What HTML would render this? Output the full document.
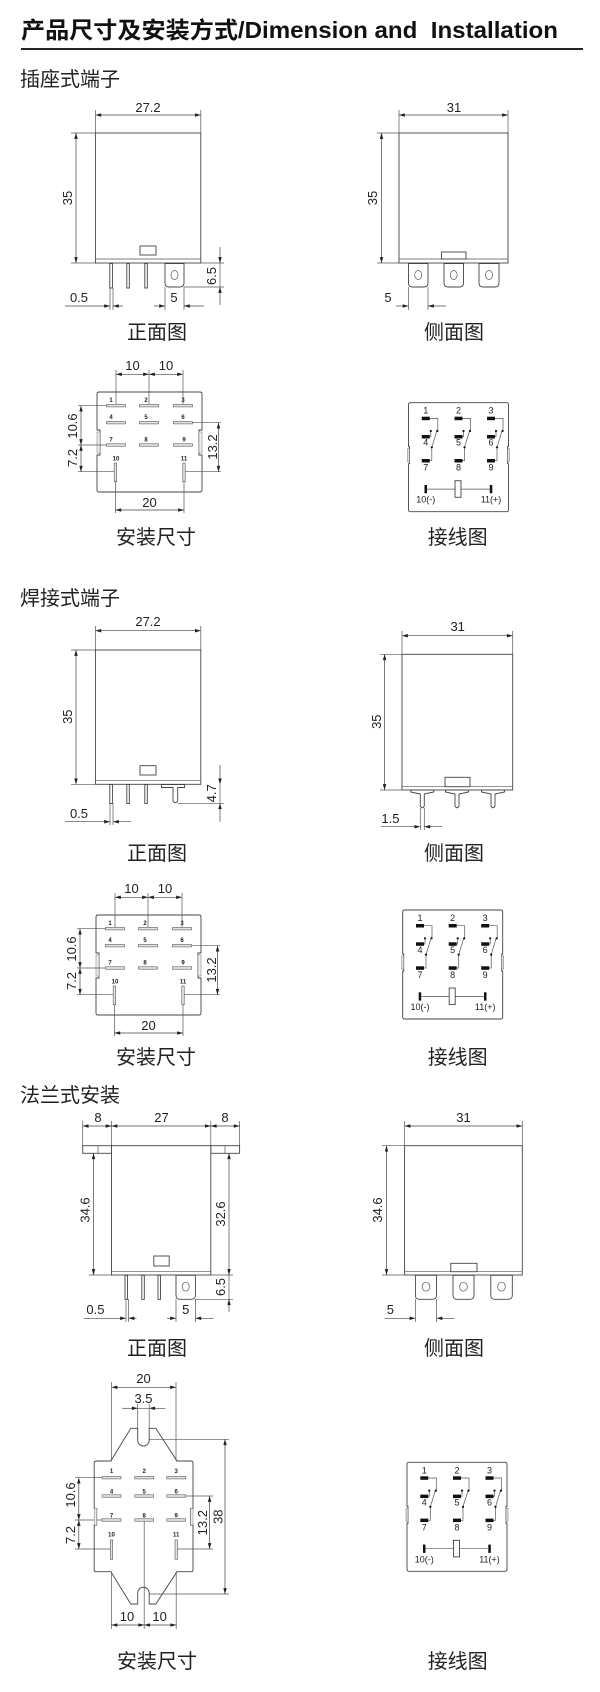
<!DOCTYPE html>
<html><head><meta charset="utf-8"><style>
html,body{margin:0;padding:0;background:#fff;}
svg{display:block}
.l{stroke:#555;stroke-width:.7;fill:none}
.b{stroke:#444;stroke-width:.9;fill:#fff}
.d{stroke:#444;stroke-width:.7;fill:none;marker-start:url(#a);marker-end:url(#a)}
.e{stroke:#444;stroke-width:.7;fill:none;marker-end:url(#a)}
.n{font-family:"Liberation Sans",sans-serif;font-size:13px;fill:#222;text-anchor:middle}
.s{font-family:"Liberation Sans",sans-serif;font-size:6px;fill:#222;text-anchor:middle;font-weight:bold}
.w{font-family:"Liberation Sans",sans-serif;font-size:9px;fill:#222;text-anchor:middle}
.c{font-family:"Liberation Sans","Noto Sans CJK SC",sans-serif;font-size:20px;fill:#222;text-anchor:middle}
.h{font-family:"Liberation Sans","Noto Sans CJK SC",sans-serif;font-size:20px;fill:#222}
.sl{fill:#e4e4e4;stroke:#555;stroke-width:.6}
.k{fill:#111}
</style></head><body>
<svg width="600" height="1692" viewBox="0 0 600 1692" xmlns="http://www.w3.org/2000/svg">
<defs>
<marker id="a" viewBox="0 0 10 6" refX="10" refY="3" markerWidth="7" markerHeight="3.5" markerUnits="userSpaceOnUse" orient="auto-start-reverse"><path d="M0,0L10,3L0,6z" fill="#222"/></marker>
<g id="wir">
<path class="b" d="M0,2Q0,0 2,0H98Q100,0 100,2V44H99V61H100V107Q100,109 98,109H2Q0,109 0,107V61H1V44H0Z"/>
<rect x="-1" y="46" width="2" height="13" fill="#ddd" stroke="#777" stroke-width=".5"/>
<rect x="99" y="46" width="2" height="13" fill="#ddd" stroke="#777" stroke-width=".5"/>
</g>
<g id="col">
<rect class="k" x="-4" y="14" width="8" height="3.5"/>
<rect class="k" x="-4" y="32.3" width="8" height="3.5"/>
<rect class="k" x="-4" y="56.3" width="8" height="3.5"/>
<path class="l" d="M4,15.7H12V28.3 M4,34H5V28.3 M4,58H6V44.6 M6,44.6L11,28.3"/>
<circle cx="5" cy="28.3" r="1.1" class="k"/><circle cx="11.5" cy="28.3" r="1.1" class="k"/><circle cx="6" cy="44.6" r="1.1" class="k"/>
</g>
<g id="plate">
<path class="b" d="M0,2Q0,0 2,0H103Q105,0 105,2V38H102V63H105V98Q105,100 103,100H2Q0,100 0,98V63H3V38H0Z"/>
<rect x="0" y="40" width="3" height="21" fill="#eee" stroke="#777" stroke-width=".5"/>
<rect x="102" y="40" width="3" height="21" fill="#eee" stroke="#777" stroke-width=".5"/>
<rect class="sl" x="9.5" y="12.5" width="19" height="2.4"/><rect class="sl" x="42.5" y="12.5" width="19" height="2.4"/><rect class="sl" x="76.5" y="12.5" width="19" height="2.4"/>
<rect class="sl" x="9.5" y="29.5" width="19" height="2.4"/><rect class="sl" x="42.5" y="29.5" width="19" height="2.4"/><rect class="sl" x="76.5" y="29.5" width="19" height="2.4"/>
<rect class="sl" x="9.5" y="51.8" width="19" height="2.4"/><rect class="sl" x="42.5" y="51.8" width="19" height="2.4"/><rect class="sl" x="76.5" y="51.8" width="19" height="2.4"/>
<rect class="sl" x="17.2" y="71" width="2.4" height="18.7"/><rect class="sl" x="85.8" y="71" width="2.4" height="18.7"/>
<text class="s" x="14" y="10">1</text><text class="s" x="49" y="10">2</text><text class="s" x="86" y="10">3</text>
<text class="s" x="14" y="27">4</text><text class="s" x="49" y="27">5</text><text class="s" x="86" y="27">6</text>
<text class="s" x="14" y="49.5">7</text><text class="s" x="49" y="49.5">8</text><text class="s" x="87" y="49.5">9</text>
<text class="s" x="19" y="68.5">10</text><text class="s" x="87" y="68.5">11</text>
<path class="l" d="M19,-22V12 M52,-22V12 M86,-22V12 M-19,13.7H9.5 M-19,53H9.5 M-19,79.7H17 M95.5,30.7H124 M88.5,79.7H124 M18.4,89.7V121 M87,89.7V121"/>
<line class="d" x1="19" y1="-17.7" x2="52" y2="-17.7"/><line class="d" x1="52" y1="-17.7" x2="86" y2="-17.7"/>
<text class="n" x="35.5" y="-22">10</text><text class="n" x="69" y="-22">10</text>
<line class="d" x1="-16" y1="13.7" x2="-16" y2="53"/><line class="d" x1="-16" y1="53" x2="-16" y2="79.7"/>
<text class="n" transform="translate(-20,34) rotate(-90)">10.6</text>
<text class="n" transform="translate(-20,66) rotate(-90)">7.2</text>
<line class="d" x1="121.5" y1="30.7" x2="121.5" y2="79.7"/>
<text class="n" transform="translate(120,55) rotate(-90)">13.2</text>
<line class="d" x1="18.4" y1="118" x2="87" y2="118"/>
<text class="n" x="52.5" y="115">20</text>
</g>
</defs>

<text x="21" y="38" font-family="'Liberation Sans','Noto Sans CJK SC',sans-serif" font-size="23" font-weight="bold" fill="#111" textLength="537" lengthAdjust="spacingAndGlyphs" xml:space="preserve">产品尺寸及安装方式/Dimension and  Installation</text>
<rect x="21" y="48" width="562" height="2" fill="#222"/>

<!-- Section 1 -->
<text class="h" x="20" y="86">插座式端子</text>
<text class="n" x="148" y="112">27.2</text>
<line class="d" x1="95.4" y1="115" x2="200.8" y2="115"/>
<path class="l" d="M95.4,110V133 M200.8,110V133 M71,133H95 M71,263H95 M184,287H224 M200.8,263H224 M110,288V310 M113,288V310 M165,287V310 M184,287V310"/>
<rect class="b" x="95.4" y="133" width="105.4" height="130"/>
<line class="l" x1="95.4" y1="259" x2="200.8" y2="259"/>
<line class="d" x1="76" y1="133" x2="76" y2="263"/>
<text class="n" transform="translate(72,198) rotate(-90)">35</text>
<rect class="b" x="140" y="246" width="16" height="9"/>
<rect class="b" x="109.8" y="263.5" width="2.8" height="24.5"/><rect class="b" x="126.8" y="263.5" width="2.5" height="24.5"/><rect class="b" x="144.8" y="263.5" width="2.5" height="24.5"/>
<path class="b" d="M165,263.5V283Q165,287 169,287H180Q184,287 184,283V263.5Z"/><ellipse class="l" cx="174.5" cy="275" rx="3.5" ry="4.5"/>
<line class="l" x1="220" y1="263" x2="220" y2="287"/>
<line class="e" x1="220" y1="247" x2="220" y2="263"/><line class="e" x1="220" y1="305" x2="220" y2="287"/>
<text class="n" transform="translate(216,276) rotate(-90)">6.5</text>
<line class="e" x1="65" y1="306" x2="110" y2="306"/><line class="e" x1="123" y1="306" x2="113" y2="306"/>
<text class="n" x="79" y="302">0.5</text>
<line class="e" x1="154" y1="306" x2="165" y2="306"/><line class="e" x1="204" y1="306" x2="184" y2="306"/>
<text class="n" x="174" y="302">5</text>
<text class="c" x="157" y="339">正面图</text>

<text class="n" x="454" y="112">31</text>
<line class="d" x1="399" y1="115" x2="508" y2="115"/>
<path class="l" d="M399,110V133 M508,110V133 M377,133H399 M377,263H399 M408.5,287V310 M428,287V310"/>
<rect class="b" x="399" y="133" width="109" height="130"/>
<line class="l" x1="399" y1="259" x2="508" y2="259"/>
<rect class="b" x="441.5" y="252" width="24.5" height="7"/>
<line class="d" x1="381.5" y1="133" x2="381.5" y2="263"/>
<text class="n" transform="translate(377,198) rotate(-90)">35</text>
<path class="b" d="M408.5,263.5V283Q408.5,287 412.5,287H424Q428,287 428,283V263.5Z M444,263.5V283Q444,287 448,287H459.5Q463.5,287 463.5,283V263.5Z M479,263.5V283Q479,287 483,287H495Q499,287 499,283V263.5Z"/>
<ellipse class="l" cx="418.2" cy="275" rx="3.5" ry="4.5"/><ellipse class="l" cx="453.7" cy="275" rx="3.5" ry="4.5"/><ellipse class="l" cx="489" cy="275" rx="3.5" ry="4.5"/>
<line class="e" x1="396" y1="306" x2="408.5" y2="306"/><line class="e" x1="446" y1="306" x2="428" y2="306"/>
<text class="n" x="388" y="302">5</text>
<text class="c" x="454" y="339">侧面图</text>

<use href="#plate" transform="translate(97,392)"/>
<text class="c" x="156" y="544">安装尺寸</text>
<g transform="translate(408.5,402.7)">
<use href="#wir"/>
<use href="#col" transform="translate(17.3,0)"/><use href="#col" transform="translate(50,0)"/><use href="#col" transform="translate(82.5,0)"/>
<text class="w" x="17.3" y="11">1</text><text class="w" x="50" y="11">2</text><text class="w" x="82.5" y="11">3</text>
<text class="w" x="17.3" y="43">4</text><text class="w" x="50" y="43">5</text><text class="w" x="82.5" y="43">6</text>
<text class="w" x="17.3" y="68">7</text><text class="w" x="50" y="68">8</text><text class="w" x="82.5" y="68">9</text>
<rect class="k" x="16" y="82.3" width="2.5" height="8.3"/><rect class="k" x="81.3" y="82.3" width="2.5" height="8.3"/>
<line class="l" x1="18" y1="86.4" x2="82" y2="86.4"/>
<rect class="b" x="46.5" y="78" width="6" height="16.6"/>
<text class="w" x="17.3" y="100" font-size="8">10(-)</text><text class="w" x="82.5" y="100" font-size="8">11(+)</text>
</g>
<text class="c" x="457.7" y="544">接线图</text>

<!-- Section 2 -->
<text class="h" x="20" y="605">焊接式端子</text>
<text class="n" x="148" y="626">27.2</text>
<line class="d" x1="95.4" y1="630.7" x2="200.8" y2="630.7"/>
<path class="l" d="M95.4,626V650 M200.8,626V650 M71,650H95 M71,784.3H95 M177.7,803.3H224 M110,803V825 M113,803V825"/>
<rect class="b" x="95.4" y="650" width="105.4" height="134.3"/>
<line class="l" x1="95.4" y1="780.7" x2="200.8" y2="780.7"/>
<line class="d" x1="76" y1="650" x2="76" y2="784.3"/>
<text class="n" transform="translate(72,716.7) rotate(-90)">35</text>
<rect class="b" x="140" y="765.7" width="16" height="9.3"/>
<rect class="b" x="109.8" y="784.5" width="2.8" height="19"/><rect class="b" x="126.8" y="784.5" width="2.5" height="19"/><rect class="b" x="144.8" y="784.5" width="2.5" height="19"/>
<path class="b" d="M161.5,784.5V787.5H173V801Q175.3,804.5 177.7,801V787.5H184.6V784.5Z"/>
<line class="l" x1="220" y1="784.3" x2="220" y2="803.3"/>
<line class="e" x1="220" y1="765" x2="220" y2="784.3"/><line class="e" x1="220" y1="821.7" x2="220" y2="803.3"/>
<text class="n" transform="translate(216,793.3) rotate(-90)">4.7</text>
<line class="e" x1="65" y1="821.7" x2="110" y2="821.7"/><line class="e" x1="131" y1="821.7" x2="113" y2="821.7"/>
<text class="n" x="79" y="818">0.5</text>
<text class="c" x="157" y="860">正面图</text>

<text class="n" x="457.7" y="631">31</text>
<line class="d" x1="402" y1="635.7" x2="512.7" y2="635.7"/>
<path class="l" d="M402,631V654.3 M512.7,631V654.3 M380,654.3H402 M380,790H402 M420.3,808V830 M424.3,808V830"/>
<rect class="b" x="402" y="654.3" width="110.7" height="135.7"/>
<line class="l" x1="402" y1="786.7" x2="512.7" y2="786.7"/>
<rect class="b" x="445" y="777.3" width="25" height="9.4"/>
<line class="d" x1="384.6" y1="654.3" x2="384.6" y2="790"/>
<text class="n" transform="translate(381,721.7) rotate(-90)">35</text>
<path class="b" d="M410.8,790V792L420.3,794V806Q422.3,809.5 424.3,806V794L433.8,792V790Z M445.5,790V792L455,794V806Q457,809.5 459,806V794L468.5,792V790Z M481.5,790V792L491,794V806Q493,809.5 495,806V794L504.5,792V790Z"/>
<line class="e" x1="381" y1="826.7" x2="420.3" y2="826.7"/><line class="e" x1="442" y1="826.7" x2="424.3" y2="826.7"/>
<text class="n" x="390.4" y="823">1.5</text>
<text class="c" x="454" y="860">侧面图</text>

<use href="#plate" transform="translate(96,915)"/>
<text class="c" x="156" y="1064">安装尺寸</text>
<g transform="translate(402.7,910)">
<use href="#wir"/>
<use href="#col" transform="translate(17.3,0)"/><use href="#col" transform="translate(50,0)"/><use href="#col" transform="translate(82.5,0)"/>
<text class="w" x="17.3" y="11">1</text><text class="w" x="50" y="11">2</text><text class="w" x="82.5" y="11">3</text>
<text class="w" x="17.3" y="43">4</text><text class="w" x="50" y="43">5</text><text class="w" x="82.5" y="43">6</text>
<text class="w" x="17.3" y="68">7</text><text class="w" x="50" y="68">8</text><text class="w" x="82.5" y="68">9</text>
<rect class="k" x="16" y="82.3" width="2.5" height="8.3"/><rect class="k" x="81.3" y="82.3" width="2.5" height="8.3"/>
<line class="l" x1="18" y1="86.4" x2="82" y2="86.4"/>
<rect class="b" x="46.5" y="78" width="6" height="16.6"/>
<text class="w" x="17.3" y="100" font-size="8">10(-)</text><text class="w" x="82.5" y="100" font-size="8">11(+)</text>
</g>
<text class="c" x="457.7" y="1064">接线图</text>

<!-- Section 3 -->
<text class="h" x="20" y="1102">法兰式安装</text>
<path class="l" d="M82.7,1121V1145.7 M111.5,1121V1145.7 M210.8,1121V1145.7 M239.6,1121V1145.7 M89,1275H111.5 M210.8,1275H233 M195.4,1299.3H233 M126,1299V1322 M128.5,1299V1322 M176,1299V1322 M195.4,1299V1322"/>
<line class="d" x1="82.7" y1="1126" x2="111.5" y2="1126"/><line class="d" x1="111.5" y1="1126" x2="210.8" y2="1126"/><line class="d" x1="210.8" y1="1126" x2="239.6" y2="1126"/>
<text class="n" x="98" y="1122">8</text><text class="n" x="161.5" y="1122">27</text><text class="n" x="225" y="1122">8</text>
<rect class="b" x="82.7" y="1145.7" width="28.8" height="7.6"/><rect class="b" x="210.8" y="1145.7" width="28.8" height="7.6"/>
<line class="l" x1="98" y1="1145.7" x2="98" y2="1153.3"/><line class="l" x1="225" y1="1145.7" x2="225" y2="1153.3"/>
<rect class="b" x="111.5" y="1145.7" width="99.3" height="129.3"/>
<line class="l" x1="111.5" y1="1271.7" x2="210.8" y2="1271.7"/>
<line class="d" x1="93.5" y1="1153.3" x2="93.5" y2="1275"/>
<text class="n" transform="translate(89.5,1210) rotate(-90)">34.6</text>
<line class="d" x1="229" y1="1153.3" x2="229" y2="1275"/>
<text class="n" transform="translate(225,1214) rotate(-90)">32.6</text>
<rect class="b" x="153.8" y="1256" width="15.4" height="10"/>
<rect class="b" x="125" y="1275.3" width="2.5" height="24"/><rect class="b" x="141.8" y="1275.3" width="2.5" height="24"/><rect class="b" x="158" y="1275.3" width="2.5" height="24"/>
<path class="b" d="M176,1275.3V1295.3Q176,1299.3 180,1299.3H191.4Q195.4,1299.3 195.4,1295.3V1275.3Z"/><ellipse class="l" cx="185.7" cy="1286.7" rx="3.5" ry="4.5"/>
<line class="l" x1="229" y1="1275" x2="229" y2="1299.3"/><line class="e" x1="229" y1="1312" x2="229" y2="1299.3"/>
<text class="n" transform="translate(225,1287) rotate(-90)">6.5</text>
<line class="e" x1="83.8" y1="1318.3" x2="126" y2="1318.3"/><line class="e" x1="136.5" y1="1318.3" x2="128.5" y2="1318.3"/>
<text class="n" x="95.4" y="1314">0.5</text>
<line class="e" x1="167" y1="1318.3" x2="176" y2="1318.3"/><line class="e" x1="213.5" y1="1318.3" x2="195.4" y2="1318.3"/>
<text class="n" x="185.8" y="1314">5</text>
<text class="c" x="157" y="1355">正面图</text>

<text class="n" x="463.5" y="1122">31</text>
<line class="d" x1="404.6" y1="1126" x2="522.3" y2="1126"/>
<path class="l" d="M404.6,1121V1145.7 M522.3,1121V1145.7 M382,1145.7H404.6 M382,1275H404.6 M415.4,1299V1322 M436.5,1299V1322"/>
<rect class="b" x="404.6" y="1145.7" width="117.7" height="129.3"/>
<line class="l" x1="404.6" y1="1271.7" x2="522.3" y2="1271.7"/>
<rect class="b" x="450.8" y="1263.3" width="26.2" height="8.4"/>
<line class="d" x1="386.5" y1="1145.7" x2="386.5" y2="1275"/>
<text class="n" transform="translate(382,1210) rotate(-90)">34.6</text>
<path class="b" d="M415.4,1275.3V1295.3Q415.4,1299.3 419.4,1299.3H432.5Q436.5,1299.3 436.5,1295.3V1275.3Z M453,1275.3V1295.3Q453,1299.3 457,1299.3H470Q474,1299.3 474,1295.3V1275.3Z M490.8,1275.3V1295.3Q490.8,1299.3 494.8,1299.3H508.3Q512.3,1299.3 512.3,1295.3V1275.3Z"/>
<ellipse class="l" cx="426" cy="1286.7" rx="3.8" ry="4.5"/><ellipse class="l" cx="463.5" cy="1286.7" rx="3.8" ry="4.5"/><ellipse class="l" cx="501.5" cy="1286.7" rx="3.8" ry="4.5"/>
<line class="e" x1="384.6" y1="1318.3" x2="415.4" y2="1318.3"/><line class="e" x1="454.6" y1="1318.3" x2="436.5" y2="1318.3"/>
<text class="n" x="390.4" y="1314">5</text>
<text class="c" x="454" y="1355">侧面图</text>

<!-- flange install -->
<text class="n" x="143.5" y="1383">20</text>
<line class="d" x1="111.5" y1="1387.3" x2="176" y2="1387.3"/>
<text class="n" x="143.5" y="1403">3.5</text>
<line class="e" x1="122.3" y1="1408.3" x2="137.7" y2="1408.3"/><line class="e" x1="165.4" y1="1408.3" x2="149.2" y2="1408.3"/>
<line class="l" x1="137.7" y1="1408.3" x2="149.2" y2="1408.3"/>
<path class="b" d="M94.2,1463Q94.2,1461 96.2,1461H110.8L130.8,1428.3H137.7V1440.3A5.75,5.75 0 0 0 149.2,1440.3V1428.3H155.8L177,1461H191Q193,1461 193,1463V1508.3H190.5V1525H193V1569.7Q193,1571.7 191,1571.7H177L155.8,1604H149.2V1593A5.75,5.75 0 0 0 137.7,1593V1604H130.8L110.8,1571.7H96.2Q94.2,1571.7 94.2,1569.7V1525H96.7V1508.3H94.2Z"/>
<path class="l" d="M111.5,1382V1461 M176,1382V1461 M137.7,1404V1428 M149.2,1404V1428 M144.2,1520V1629 M75,1477.7H102 M75,1520H102 M75,1549H110 M186,1496H213 M177.5,1549H213 M149.2,1439.3H229 M149.2,1594H229 M111.5,1571.7V1629 M176.2,1571.7V1629"/>
<rect x="94.2" y="1508.3" width="2.5" height="16.7" fill="#eee" stroke="#777" stroke-width=".5"/><rect x="190.5" y="1508.3" width="2.5" height="16.7" fill="#eee" stroke="#777" stroke-width=".5"/>
<rect class="sl" x="102" y="1476.5" width="19" height="2.4"/><rect class="sl" x="134.7" y="1476.5" width="19" height="2.4"/><rect class="sl" x="166.7" y="1476.5" width="19" height="2.4"/>
<rect class="sl" x="102" y="1494.8" width="19" height="2.4" fill="#bbb"/><rect class="sl" x="134.7" y="1494.8" width="19" height="2.4" fill="#bbb"/><rect class="sl" x="166.7" y="1494.8" width="19" height="2.4" fill="#bbb"/>
<rect class="sl" x="102" y="1518.8" width="19" height="2.4"/><rect class="sl" x="134.7" y="1518.8" width="19" height="2.4"/><rect class="sl" x="166.7" y="1518.8" width="19" height="2.4"/>
<rect class="sl" x="110.3" y="1540" width="2.4" height="19.3"/><rect class="sl" x="175" y="1540" width="2.4" height="19.3"/>
<text class="s" x="111.5" y="1473">1</text><text class="s" x="144.2" y="1473">2</text><text class="s" x="176.2" y="1473">3</text>
<text class="s" x="111.5" y="1493.5">4</text><text class="s" x="144.2" y="1493.5">5</text><text class="s" x="176.2" y="1493.5">6</text>
<text class="s" x="111.5" y="1517.5">7</text><text class="s" x="144.2" y="1517.5">8</text><text class="s" x="176.2" y="1517.5">9</text>
<text class="s" x="111.5" y="1536.5">10</text><text class="s" x="176.2" y="1536.5">11</text>
<line class="d" x1="78.8" y1="1477.7" x2="78.8" y2="1520"/><line class="d" x1="78.8" y1="1520" x2="78.8" y2="1549"/>
<text class="n" transform="translate(75,1495) rotate(-90)">10.6</text>
<text class="n" transform="translate(75,1535) rotate(-90)">7.2</text>
<line class="d" x1="209.6" y1="1496" x2="209.6" y2="1549"/>
<text class="n" transform="translate(207,1522.7) rotate(-90)">13.2</text>
<line class="d" x1="225" y1="1439.3" x2="225" y2="1594"/>
<text class="n" transform="translate(222.5,1516.7) rotate(-90)">38</text>
<line class="d" x1="111.5" y1="1625" x2="144.2" y2="1625"/><line class="d" x1="144.2" y1="1625" x2="176.2" y2="1625"/>
<text class="n" x="127" y="1621">10</text><text class="n" x="159.6" y="1621">10</text>
<text class="c" x="157" y="1668">安装尺寸</text>

<g transform="translate(407,1462.3)">
<use href="#wir"/>
<use href="#col" transform="translate(17.3,0)"/><use href="#col" transform="translate(50,0)"/><use href="#col" transform="translate(82.5,0)"/>
<text class="w" x="17.3" y="11">1</text><text class="w" x="50" y="11">2</text><text class="w" x="82.5" y="11">3</text>
<text class="w" x="17.3" y="43">4</text><text class="w" x="50" y="43">5</text><text class="w" x="82.5" y="43">6</text>
<text class="w" x="17.3" y="68">7</text><text class="w" x="50" y="68">8</text><text class="w" x="82.5" y="68">9</text>
<rect class="k" x="16" y="82.3" width="2.5" height="8.3"/><rect class="k" x="81.3" y="82.3" width="2.5" height="8.3"/>
<line class="l" x1="18" y1="86.4" x2="82" y2="86.4"/>
<rect class="b" x="46.5" y="78" width="6" height="16.6"/>
<text class="w" x="17.3" y="100" font-size="8">10(-)</text><text class="w" x="82.5" y="100" font-size="8">11(+)</text>
</g>
<text class="c" x="457.7" y="1668">接线图</text>
</svg>
</body></html>
